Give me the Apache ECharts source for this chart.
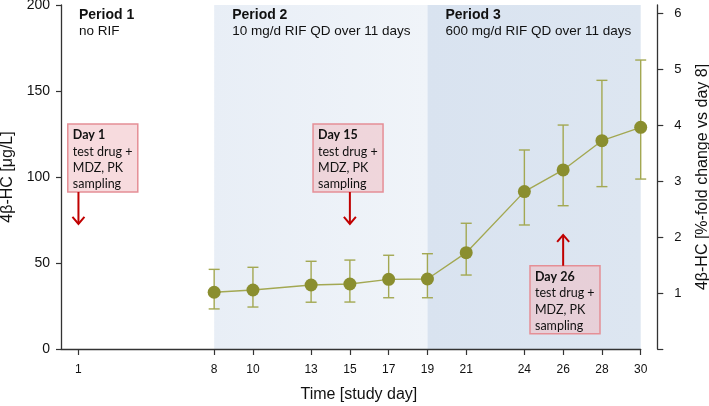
<!DOCTYPE html>
<html>
<head>
<meta charset="utf-8">
<script src="https://cdn.jsdelivr.net/npm/echarts@6/dist/echarts.min.js"></script>
<style>
html,body{margin:0;padding:0;background:#fff;}
#chart{width:709px;height:406px;}
</style>
</head>
<body>
<div id="chart"></div>
<script>
// ---- data ----
const days = [8, 10, 13, 15, 17, 19, 21, 24, 26, 28, 30];
const meanHC = [33.0, 34.3, 37.2, 37.8, 40.5, 40.7, 56.0, 91.5, 104.1, 121.1, 128.9];
const upperHC = [46.3, 47.5, 51.0, 51.7, 54.5, 55.4, 73.1, 115.7, 130.2, 156.2, 168.0];
const lowerHC = [23.3, 24.4, 27.2, 27.3, 29.8, 29.8, 43.0, 72.1, 83.3, 94.4, 98.8];
const xTickDays = [1, 8, 10, 13, 15, 17, 19, 21, 24, 26, 28, 30];
const leftTicks = [0, 50, 100, 150, 200];
const foldTicks = [0, 1, 2, 3, 4, 5, 6];
const periodStart = [0.1, 8, 19];
const periodEnd = [8, 19, 30];
const periodTitles = ['Period 1', 'Period 2', 'Period 3'];
const periodDesc = ['no RIF', '10 mg/d RIF QD over 11 days', '600 mg/d RIF QD over 11 days'];
const annotDays = [1, 15, 26];
const annotTitles = ['Day 1', 'Day 15', 'Day 26'];
const annotBody = ['test drug +', 'MDZ, PK', 'sampling'];

// ---- layout of annotations (data coordinates) ----
const annotLayout = [
  {boxLeft: 0.45, boxTop: 130.8, tip: 72.7, up: false},
  {boxLeft: 13.1, boxTop: 130.8, tip: 72.7, up: false},
  {boxLeft: 24.29, boxTop: 48.4, tip: 66.3, up: true}
];
const BOX_W = 70, BOX_H = 68;

const chart = echarts.init(document.getElementById('chart'), null, {renderer: 'canvas'});

const axisColor = '#333';
const fontMain = "'Liberation Sans', Arial, sans-serif";
const fontBox = "Lato, Carlito, Calibri, sans-serif";

const periodFills = [
  'rgba(0,0,0,0)',
  new echarts.graphic.LinearGradient(0, 0, 1, 0, [{offset: 0, color: '#e8eef6'}, {offset: 1, color: '#f0f4f9'}]),
  new echarts.graphic.LinearGradient(0, 0, 1, 0, [{offset: 0, color: '#d9e3f0'}, {offset: 1, color: '#dde6f1'}])
];

const markAreaData = periodStart.map((s, i) => [
  {
    xAxis: s,
    itemStyle: {color: periodFills[i]},
    label: {
      show: true,
      position: [18, 2],
      formatter: '{b|' + periodTitles[i] + '}\n{n|' + periodDesc[i] + '}',
      rich: {
        b: {fontFamily: fontMain, fontWeight: 'bold', fontSize: 14, lineHeight: 16, color: '#111'},
        n: {fontFamily: fontMain, fontSize: 13.5, lineHeight: 16, color: '#111'}
      }
    }
  },
  {xAxis: periodEnd[i]}
]);

const option = {
  animation: false,
  grid: {left: 61, right: 68.3, top: 5, bottom: 57, outerBoundsMode: 'none', containLabel: false},
  xAxis: {
    type: 'value', min: 0.1, max: 30, z: 10,
    name: 'Time [study day]', nameLocation: 'middle', nameGap: 38,
    nameTextStyle: {fontFamily: fontMain, fontSize: 16, color: '#111', padding: [0, 0, 0, 16]},
    axisLine: {show: true, lineStyle: {color: axisColor, width: 1.3}},
    axisTick: {show: true, length: 6, lineStyle: {color: axisColor, width: 1.2}, customValues: xTickDays},
    axisLabel: {customValues: xTickDays, margin: 15, fontFamily: fontMain, fontSize: 12, color: '#111'},
    splitLine: {show: false}
  },
  yAxis: [
    {
      type: 'value', min: 0, max: 200, interval: 50, z: 10,
      name: '4β-HC [μg/L]', nameLocation: 'middle', nameGap: 45,
      nameTextStyle: {fontFamily: fontMain, fontSize: 16, color: '#111'},
      axisLine: {show: true, lineStyle: {color: axisColor, width: 1.3}},
      axisTick: {show: true, length: 5, lineStyle: {color: axisColor, width: 1.2}, customValues: leftTicks},
      axisLabel: {customValues: leftTicks, margin: 11, fontFamily: fontMain, fontSize: 14, color: '#111'},
      splitLine: {show: false}
    },
    {
      type: 'value', min: 0, max: 6.148, position: 'right', offset: 16.6, z: 10,
      name: '4β-HC [%-fold change vs day 8]', nameLocation: 'middle', nameGap: 37,
      nameTextStyle: {fontFamily: fontMain, fontSize: 16, color: '#111'},
      axisLine: {show: true, lineStyle: {color: axisColor, width: 1.3}},
      axisTick: {show: true, length: 6, lineStyle: {color: axisColor, width: 1.2}, customValues: foldTicks},
      axisLabel: {customValues: foldTicks.slice(1), margin: 17, fontFamily: fontMain, fontSize: 13, color: '#111'},
      splitLine: {show: false}
    }
  ],
  series: [
    {
      type: 'line', name: 'periods', data: [], z: 1,
      markArea: {silent: true, data: markAreaData}
    },
    {
      type: 'custom', name: 'errors', z: 3,
      data: days.map((d, i) => [d, lowerHC[i], upperHC[i]]),
      encode: {x: 0, y: [1, 2]},
      renderItem: function (params, api) {
        const lo = api.coord([api.value(0), api.value(1)]);
        const hi = api.coord([api.value(0), api.value(2)]);
        const w = 5.5;
        const st = {stroke: '#a3a852', lineWidth: 1.4};
        return {
          type: 'group',
          children: [
            {type: 'line', shape: {x1: lo[0], y1: lo[1], x2: hi[0], y2: hi[1]}, style: st},
            {type: 'line', shape: {x1: lo[0] - w, y1: lo[1], x2: lo[0] + w, y2: lo[1]}, style: st},
            {type: 'line', shape: {x1: hi[0] - w, y1: hi[1], x2: hi[0] + w, y2: hi[1]}, style: st}
          ]
        };
      }
    },
    {
      type: 'line', name: '4β-HC', z: 4,
      data: days.map((d, i) => [d, meanHC[i]]),
      symbol: 'circle', symbolSize: 13,
      itemStyle: {color: '#8a8e2f'},
      lineStyle: {color: '#a3a852', width: 1.4}
    },
    {
      type: 'custom', name: 'annotations', z: 6, clip: false,
      data: annotDays.map((d, i) => [d, i]),
      encode: {x: 0},
      renderItem: function (params, api) {
        const i = params.dataIndex;
        const L = annotLayout[i];
        const day = annotDays[i];
        const tl = api.coord([L.boxLeft, L.boxTop]);
        const tip = api.coord([day, L.tip]);
        const bx = tl[0], by = tl[1];
        const red = '#c00000';
        const startY = L.up ? by : by + BOX_H;
        const dy = L.up ? 7 : -7;
        const children = [
          {type: 'rect', shape: {x: bx, y: by, width: BOX_W, height: BOX_H},
           style: {fill: 'rgba(240,190,195,0.55)', stroke: '#e58f96', lineWidth: 1.5}},
          {type: 'text', style: {
            x: bx + 5, y: by + 3,
            text: '{b|' + annotTitles[i] + '}\n{n|' + annotBody.join('}\n{n|') + '}',
            verticalAlign: 'top', align: 'left',
            rich: {
              b: {fontFamily: fontBox, fontWeight: 'bold', fontSize: 12.5, lineHeight: 16.3, fill: '#111'},
              n: {fontFamily: fontBox, fontSize: 12.5, lineHeight: 16.3, fill: '#111'}
            }
          }},
          {type: 'line', shape: {x1: tip[0], y1: startY, x2: tip[0], y2: tip[1]}, style: {stroke: red, lineWidth: 2}},
          {type: 'polyline', shape: {points: [[tip[0] - 6, tip[1] + dy], [tip[0], tip[1]], [tip[0] + 6, tip[1] + dy]]},
           style: {stroke: red, lineWidth: 2, fill: null}}
        ];
        return {type: 'group', children: children};
      }
    }
  ]
};
chart.setOption(option);
</script>
</body>
</html>
